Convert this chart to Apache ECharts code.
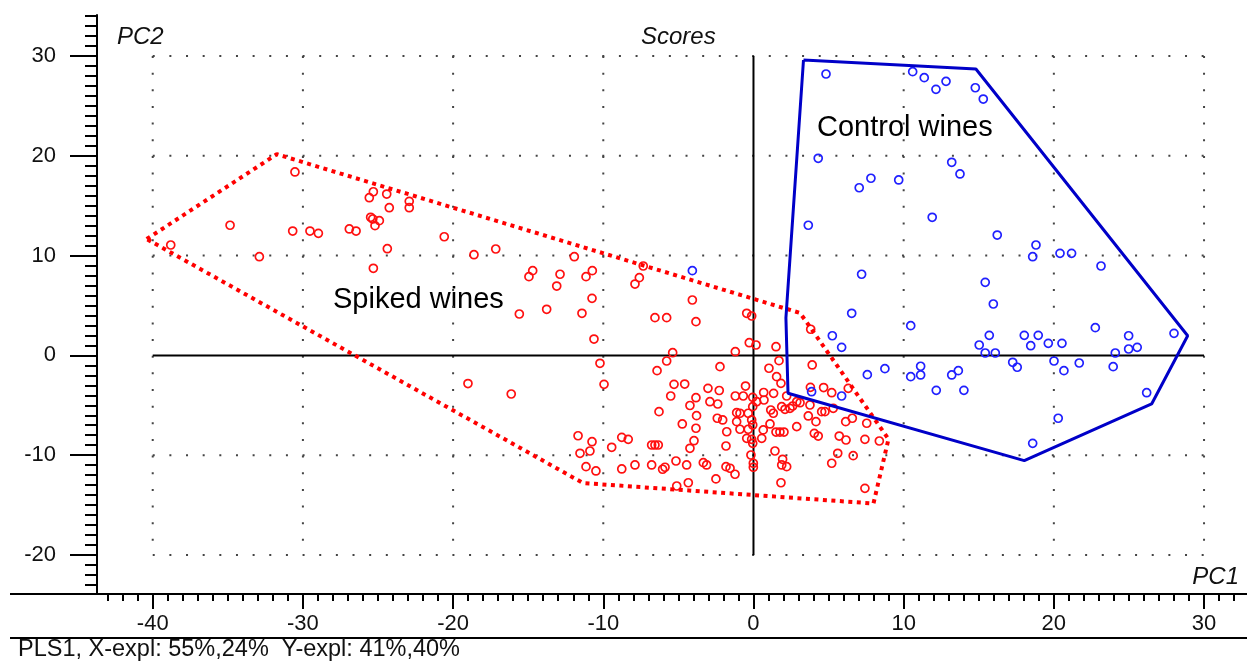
<!DOCTYPE html>
<html>
<head>
<meta charset="utf-8">
<script src="https://cdn.jsdelivr.net/npm/echarts@6/dist/echarts.min.js"></script>
<style>
  html, body { margin: 0; padding: 0; background: #fff; }
  #chart { width: 1247px; height: 666px; }
</style>
</head>
<body>
<div id="chart"></div>
<script>
// Axis extents (PC1 horizontal, PC2 vertical)
const xRange = [-43.71, 32.86];
const yRange = [-23.91, 34.11];

// Labelled (major) tick values
const xTicks = [-40, -30, -20, -10, 0, 10, 20, 30];
const yTicks = [-20, -10, 0, 10, 20, 30];

// Dotted reference grid and solid zero lines
const gridXs = [-40, -30, -20, -10, 10, 20, 30];
const gridYs = [-20, -10, 10, 20, 30];
const gridBox = { x: [-40, 30], y: [-20, 30] };

// Scores of the spiked wines (PC1, PC2)
const spiked = [
  [-38.80, 11.06], [-34.85, 13.04], [-32.90, 9.89], [-30.53, 18.38], [-30.68, 12.46],
  [-29.53, 12.46], [-28.97, 12.23], [-26.91, 12.67], [-26.46, 12.46], [-25.58, 15.80],
  [-25.31, 16.40], [-24.42, 16.17], [-24.25, 14.80], [-22.92, 15.44], [-22.92, 14.80],
  [-25.49, 13.84], [-25.35, 13.67], [-24.91, 13.50], [-25.20, 13.00], [-24.38, 10.69],
  [-25.31, 8.73], [-20.59, 11.89], [-18.61, 10.09], [-17.16, 10.66], [-15.59, 4.15],
  [-14.70, 8.49], [-14.95, 7.89], [-12.88, 8.13], [-13.10, 6.95], [-11.93, 9.89],
  [-10.73, 8.49], [-11.15, 7.89], [-10.75, 5.72], [-13.77, 4.62], [-11.42, 4.22],
  [-10.62, 1.64], [-10.22, -0.79], [-9.95, -2.90], [-16.13, -3.87], [-19.01, -2.82],
  [-7.34, 8.96], [-7.60, 7.79], [-7.89, 7.15], [-6.56, 3.78], [-5.78, 3.78],
  [-4.07, 5.55], [-3.83, 3.38], [-0.45, 4.22], [-0.12, 3.95], [-0.28, 1.27],
  [0.17, 1.04], [1.50, 0.87], [3.81, 2.62], [-1.21, 0.37], [-5.38, 0.27],
  [-5.78, -0.56], [-6.42, -1.53], [-2.23, -1.13], [1.03, -1.29], [1.70, -0.53],
  [1.54, -2.13], [3.91, -0.96], [-5.29, -2.90], [-4.58, -2.87], [-5.51, -4.07],
  [-3.03, -3.30], [-2.28, -3.52], [-0.53, -3.07], [1.83, -2.80], [3.79, -3.20],
  [4.67, -3.22], [5.21, -3.74], [6.31, -3.30], [-3.83, -4.24], [-1.21, -4.07],
  [-0.68, -4.07], [-0.05, -4.20], [0.68, -3.72], [1.34, -3.80], [2.21, -4.07],
  [2.88, -4.64], [-4.23, -5.02], [-2.90, -4.64], [-2.38, -4.87], [-6.29, -5.64],
  [-3.79, -6.04], [-2.41, -6.30], [-2.05, -6.47], [-1.12, -5.74], [-0.90, -5.80],
  [-0.35, -5.80], [-0.05, -5.14], [0.21, -4.64], [0.70, -4.47], [1.15, -5.47],
  [1.32, -5.80], [1.88, -5.14], [2.10, -5.40], [2.43, -5.30], [2.61, -5.07],
  [3.10, -4.74], [3.76, -4.97], [4.54, -5.64], [4.76, -5.64], [5.31, -5.30],
  [3.65, -6.07], [4.16, -6.64], [6.14, -6.64], [6.58, -6.30], [7.54, -6.80],
  [-4.74, -6.87], [-3.83, -7.30], [-1.12, -6.64], [-0.90, -7.40], [-0.35, -7.40],
  [-0.12, -6.47], [-0.05, -6.97], [0.65, -7.47], [1.10, -6.87], [1.50, -7.68],
  [1.76, -7.68], [2.03, -7.68], [2.88, -7.14], [-1.78, -7.65], [-3.96, -8.55],
  [-4.23, -9.31], [-1.83, -9.08], [-0.45, -8.31], [-0.12, -8.41], [-0.05, -8.81],
  [0.55, -8.31], [4.05, -7.81], [4.31, -8.08], [5.71, -8.08], [6.16, -8.48],
  [7.42, -8.41], [8.38, -8.58], [-8.77, -8.21], [-8.34, -8.41], [-9.44, -9.21],
  [-6.78, -8.98], [-6.56, -8.98], [-6.34, -8.98], [-0.17, -9.98], [1.43, -9.58],
  [1.94, -10.41], [2.21, -11.15], [1.88, -10.98], [5.61, -9.81], [6.64, -10.05],
  [5.21, -10.81], [-8.77, -11.38], [-7.89, -10.98], [-6.78, -10.98], [-6.05, -11.41],
  [-5.89, -11.21], [-5.16, -10.58], [-4.45, -10.98], [-3.34, -10.75], [-3.12, -10.98],
  [-1.83, -11.15], [-1.56, -11.31], [-1.23, -11.91], [-0.01, -10.81], [-0.01, -11.21],
  [-2.50, -12.38], [-4.34, -12.76], [-5.11, -13.09], [1.83, -12.76], [7.42, -13.32],
  [-11.68, -8.05], [-10.75, -8.65], [-11.55, -9.81], [-10.89, -9.58], [-11.15, -11.15],
  [-10.49, -11.58]
];

// Scores of the control wines (PC1, PC2)
const control = [
  [4.83, 28.20], [10.60, 28.43], [11.37, 27.83], [12.15, 26.66], [12.82, 27.46],
  [14.77, 26.82], [15.30, 25.69], [4.31, 19.75], [7.04, 16.80], [7.82, 17.75],
  [9.67, 17.58], [13.20, 19.35], [13.75, 18.18], [3.65, 13.04], [11.90, 13.84],
  [16.23, 12.06], [18.81, 11.06], [18.59, 9.89], [20.41, 10.23], [21.18, 10.23],
  [23.14, 8.96], [7.20, 8.13], [15.43, 7.32], [15.97, 5.15], [6.54, 4.22],
  [10.47, 2.98], [22.76, 2.78], [5.25, 1.97], [5.87, 0.81], [15.70, 2.01],
  [15.03, 1.04], [15.43, 0.24], [16.10, 0.24], [18.03, 2.01], [18.96, 2.01],
  [18.46, 0.97], [19.63, 1.21], [20.54, 1.21], [24.09, 0.24], [24.98, 1.97],
  [24.98, 0.64], [25.55, 0.81], [28.00, 2.21], [20.01, -0.56], [20.67, -1.53],
  [21.69, -0.76], [23.95, -1.13], [17.26, -0.69], [17.56, -1.19], [8.75, -1.33],
  [7.58, -1.93], [10.47, -2.13], [11.13, -1.09], [11.13, -1.96], [13.20, -1.96],
  [13.64, -1.53], [12.17, -3.50], [14.01, -3.50], [26.18, -3.74], [20.29, -6.30],
  [18.59, -8.81], [3.87, -3.64], [5.87, -4.07], [-4.07, 8.49]
];

// Outlines drawn around each group
const spikedHull = [
  [-40.40, 11.66], [-31.74, 20.16], [3.10, 4.25], [3.76, 2.85], [8.99, -8.38],
  [7.99, -14.84], [-11.35, -12.79], [-40.40, 11.66]
];
const controlHull = [
  [3.33, 29.60], [14.81, 28.70], [28.91, 1.97], [26.51, -4.87], [18.03, -10.55],
  [2.30, -3.80], [2.16, 3.75], [3.33, 29.60]
];

// Unlabelled minor ticks every unit
const xMinor = [];
for (let v = Math.ceil(xRange[0]); v <= Math.floor(xRange[1]); v++) if (v % 10 !== 0) xMinor.push(v);
const yMinor = [];
for (let v = Math.ceil(yRange[0]); v <= Math.floor(yRange[1]); v++) if (v % 10 !== 0) yMinor.push(v);

const FONT = '"Liberation Sans", Arial, sans-serif';
const INK = '#111';

const chart = echarts.init(document.getElementById('chart'), null, { renderer: 'canvas' });

function segment(points, style, z) {
  return {
    type: 'line', data: points, symbol: 'none', silent: true, z: z,
    lineStyle: style, xAxisIndex: 0, yAxisIndex: 0
  };
}

const dotted = { type: [2, 14.65], width: 2, color: '#444', cap: 'butt' };
const solid = { type: 'solid', width: 2, color: '#000' };

const series = [];
gridXs.forEach(x => series.push(segment([[x, gridBox.y[1]], [x, gridBox.y[0]]], dotted, 1)));
gridYs.forEach(y => series.push(segment([[gridBox.x[0], y], [gridBox.x[1], y]], dotted, 1)));
series.push(segment([[0, gridBox.y[1]], [0, gridBox.y[0]]], solid, 1));
series.push(segment([[gridBox.x[0], 0], [gridBox.x[1], 0]], solid, 1));

series.push({
  type: 'scatter', data: spiked, symbol: 'circle', symbolSize: 8, silent: true, z: 3,
  itemStyle: { color: 'rgba(0,0,0,0)', borderColor: '#ff1010', borderWidth: 1.7, opacity: 1 }
});
series.push({
  type: 'scatter', data: control, symbol: 'circle', symbolSize: 8, silent: true, z: 3,
  itemStyle: { color: 'rgba(0,0,0,0)', borderColor: '#2020ff', borderWidth: 1.7, opacity: 1 }
});
series.push(segment(spikedHull, { type: [4, 4.5], width: 4, color: '#ff0000', cap: 'butt' }, 4));
series.push(segment(controlHull, { type: 'solid', width: 3, color: '#0000c8' }, 4));

function valueAxis(range, pos, major, ticks, tickLen, labelMargin) {
  return {
    type: 'value', min: range[0], max: range[1], position: pos,
    axisLine: { show: major, onZero: false, lineStyle: { color: '#000', width: 2 } },
    axisTick: { show: true, inside: false, length: tickLen, customValues: ticks,
                lineStyle: { color: '#000', width: 2 } },
    axisLabel: major
      ? { show: true, customValues: ticks, margin: labelMargin, fontSize: 22,
          fontFamily: FONT, color: INK }
      : { show: false },
    splitLine: { show: false }
  };
}

const option = {
  animation: false,
  backgroundColor: '#fff',
  grid: { left: 97, right: 0, top: 15, bottom: 72, containLabel: false, outerBoundsMode: 'none' },
  xAxis: [
    valueAxis(xRange, 'bottom', true, xTicks, 15, 19),
    valueAxis(xRange, 'bottom', false, xMinor, 7, 0)
  ],
  yAxis: [
    valueAxis(yRange, 'left', true, yTicks, 27, 41),
    valueAxis(yRange, 'left', false, yMinor, 12, 0)
  ],
  series: series,
  graphic: [
    { type: 'line', shape: { x1: 10, y1: 594, x2: 97, y2: 594 }, style: { stroke: '#000', lineWidth: 2 } },
    { type: 'line', shape: { x1: 10, y1: 638, x2: 1247, y2: 638 }, style: { stroke: '#000', lineWidth: 2 } },
    { type: 'text', x: 117, y: 37, style: { text: 'PC2', font: 'italic 24px ' + FONT, fill: INK, verticalAlign: 'middle' } },
    { type: 'text', x: 641, y: 37, style: { text: 'Scores', font: 'italic 24px ' + FONT, fill: INK, verticalAlign: 'middle' } },
    { type: 'text', x: 1239, y: 577, style: { text: 'PC1', font: 'italic 24px ' + FONT, fill: INK, align: 'right', verticalAlign: 'middle' } },
    { type: 'text', x: 817, y: 128, style: { text: 'Control wines', font: '29px ' + FONT, fill: '#000', verticalAlign: 'middle' } },
    { type: 'text', x: 333, y: 300, style: { text: 'Spiked wines', font: '29px ' + FONT, fill: '#000', verticalAlign: 'middle' } },
    { type: 'text', x: 18, y: 650, style: { text: 'PLS1, X-expl: 55%,24%  Y-expl: 41%,40%', font: '23.5px ' + FONT, fill: INK, verticalAlign: 'middle' } }
  ]
};

chart.setOption(option);
</script>
</body>
</html>
